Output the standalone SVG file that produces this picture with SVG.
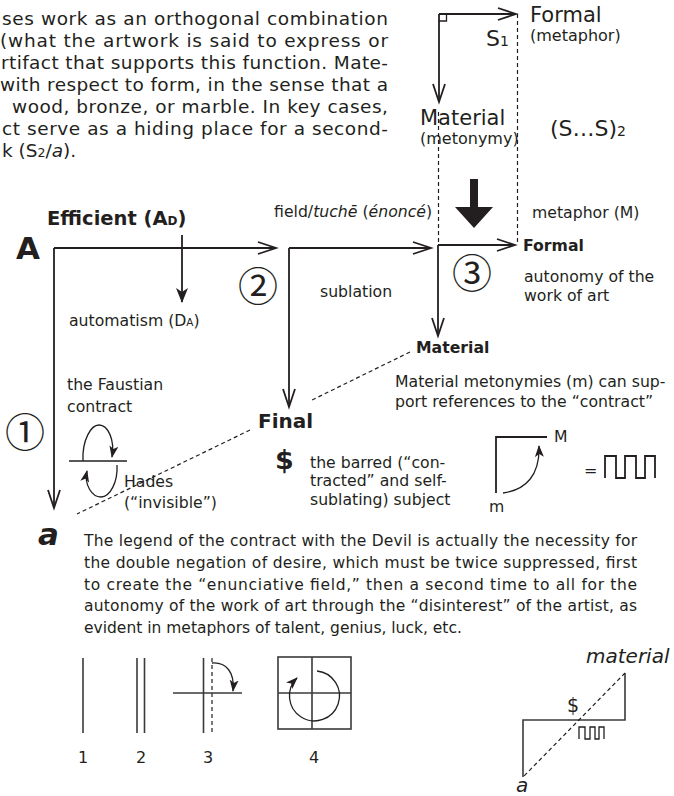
<svg xmlns="http://www.w3.org/2000/svg" width="674" height="796" viewBox="0 0 674 796">
<defs>
<style>
.t{font-family:"DejaVu Sans","Verdana",sans-serif;fill:#231f20}
.c{font-family:"Noto Sans CJK JP","Noto Sans CJK SC","DejaVu Sans",sans-serif;fill:#231f20}
.b{font-weight:bold}
.i{font-style:italic}
.p{font-size:18.5px}
.q{font-size:15.5px}
.l{font-size:15.7px}
.ln{stroke:#231f20;stroke-width:1.8;fill:none}
.thin{stroke:#231f20;stroke-width:1.3;fill:none}
.dash{stroke:#231f20;stroke-width:1.2;fill:none;stroke-dasharray:4 3}
.gray{stroke:#3a3a3a;stroke-width:1.6;fill:none}
</style>
<marker id="open" markerWidth="22" markerHeight="16" refX="19" refY="7" orient="auto" markerUnits="userSpaceOnUse"><path d="M1,1 L19,7 L1,13" fill="none" stroke="#231f20" stroke-width="1.8"/></marker>
<marker id="fill" markerWidth="17" markerHeight="14" refX="14" refY="6" orient="auto" markerUnits="userSpaceOnUse"><path d="M0,0 L15,6 L0,12 L4,6 Z" fill="#231f20"/></marker>
<marker id="fillS" markerWidth="14" markerHeight="11" refX="11" refY="4.5" orient="auto" markerUnits="userSpaceOnUse"><path d="M0,0 L12,4.5 L0,9 L3,4.5 Z" fill="#231f20"/></marker>
</defs>
<rect width="674" height="796" fill="#ffffff"/>

<g id="paragraph-top" class="t p">
<text x="2" y="25" textLength="386" lengthAdjust="spacing">ses work as an orthogonal combination</text>
<text x="0" y="47" textLength="388" lengthAdjust="spacing">(what the artwork is said to express or</text>
<text x="1" y="69" textLength="387" lengthAdjust="spacing">rtifact that supports this function. Mate-</text>
<text x="0" y="91" textLength="388" lengthAdjust="spacing">with respect to form, in the sense that a</text>
<text x="12" y="113" textLength="376" lengthAdjust="spacing">wood, bronze, or marble. In key cases,</text>
<text x="2" y="135" textLength="386" lengthAdjust="spacing">ct serve as a hiding place for a second-</text>
<text x="2" y="157">k (S<tspan font-size="12.5px">2</tspan>/<tspan class="i">a</tspan>).</text>
</g>

<g id="connectors">
<line class="ln" x1="439" y1="14" x2="516" y2="14" marker-end="url(#open)"/>
<line class="ln" x1="439" y1="14" x2="439" y2="102" marker-end="url(#open)"/>
<path class="thin" d="M439,21 H446.5 V14"/>
<line class="dash" x1="517.5" y1="14" x2="517.5" y2="243"/>
<line class="dash" x1="438.5" y1="112" x2="438.5" y2="245"/>
<path d="M470,179 H478 V207 H493 L474,228 L455,207 H470 Z" fill="#231f20"/>
<line class="ln" x1="54" y1="248" x2="276" y2="248" marker-end="url(#open)"/>
<line class="ln" x1="54" y1="248" x2="54" y2="508" marker-end="url(#open)"/>
<line class="ln" x1="182" y1="235" x2="182" y2="302" marker-end="url(#fill)"/>
<line class="ln" x1="289" y1="248" x2="431" y2="248" marker-end="url(#open)"/>
<line class="ln" x1="289" y1="248" x2="289" y2="407" marker-end="url(#open)"/>
<line class="ln" x1="438" y1="245" x2="515" y2="245" marker-end="url(#open)"/>
<line class="ln" x1="438" y1="245" x2="438" y2="336" marker-end="url(#open)"/>
<line class="dash" x1="410" y1="352" x2="310" y2="401"/>
<line class="dash" x1="250" y1="430" x2="77" y2="514"/>
</g>

<g id="top-right" class="t">
<text x="530" y="22" font-size="21px">Formal</text>
<text x="530" y="41" font-size="16px">(metaphor)</text>
<text x="486" y="46" font-size="22px">S<tspan font-size="14px">1</tspan></text>
<text x="420" y="125" font-size="21px">Material</text>
<text x="420" y="144" font-size="16px">(metonymy)</text>
<text x="550" y="136" font-size="22px">(S…S)<tspan font-size="14px">2</tspan></text>
</g>

<g id="efficient" class="t">
<text x="16" y="259" font-size="31px" class="b">A</text>
<text x="47" y="225" font-size="19.5px" class="b">Efficient (A<tspan font-size="12px">D</tspan>)</text>
<text x="69" y="326" class="l">automatism (D<tspan font-size="10.5px">A</tspan>)</text>
</g>

<g id="field" class="t l">
<text x="274" y="217">field/<tspan class="i">tuchē</tspan> (<tspan class="i">énoncé</tspan>)</text>
<text x="320" y="297">sublation</text>
<text x="532" y="218">metaphor (M)</text>
<text x="523" y="251" class="b">Formal</text>
<text x="524" y="282">autonomy of the</text>
<text x="524" y="301">work of art</text>
<text x="416" y="353" class="b">Material</text>
<text x="395" y="387">Material metonymies (m) can sup-</text>
<text x="395" y="407">port references to the “contract”</text>
</g>

<g id="numbers" class="c" font-size="40px">
<text x="5" y="447">①</text>
<text x="238" y="301">②</text>
<text x="452" y="288">③</text>
</g>

<g id="faustian" class="t l">
<text x="67" y="390">the Faustian</text>
<text x="67" y="412">contract</text>
<text x="124" y="487">Hades</text>
<text x="124" y="508">(“invisible”)</text>
</g>
<g id="hades-symbol">
<line class="thin" x1="69" y1="461" x2="127" y2="461"/>
<path class="thin" d="M83,461 C82,440 91,425 99,425 C108,425 115,440 112,457" marker-end="url(#fillS)"/>
<path class="thin" d="M117,465 C118,482 110,497 101,497 C92,497 84,485 87,471" marker-end="url(#fillS)"/>
</g>

<g id="final" class="t">
<text x="258" y="428" font-size="20px" class="b">Final</text>
<text x="275" y="469" font-size="27px" class="b">$</text>
<text x="310" y="468" class="l">the barred (“con-</text>
<text x="310" y="486" class="l">tracted” and self-</text>
<text x="310" y="505" class="l">sublating) subject</text>
</g>

<g id="m-diagram">
<path class="ln" d="M496,493 V437 H547"/>
<path class="thin" d="M503,493 C526,490 540,475 539,446" marker-end="url(#fillS)"/>
<text class="t l" x="554" y="442">M</text>
<text class="t l" x="489" y="512">m</text>
<text class="t" x="584" y="476" font-size="16px">=</text>
<path class="ln" d="M605,478 V456 H616 V478 H625 V456 H636 V478 H645 V456 H655 V478"/>
</g>

<g id="paragraph-bottom" class="t">
<text x="38" y="545" font-size="31px" class="b i">a</text>
<text x="84" y="546" class="q" textLength="553" lengthAdjust="spacing">The legend of the contract with the Devil is actually the necessity for</text>
<text x="84" y="568" class="q" textLength="553" lengthAdjust="spacing">the double negation of desire, which must be twice suppressed, first</text>
<text x="84" y="590" class="q" textLength="553" lengthAdjust="spacing">to create the “enunciative field,” then a second time to all for the</text>
<text x="84" y="611" class="q" textLength="553" lengthAdjust="spacing">autonomy of the work of art through the “disinterest” of the artist, as</text>
<text x="84" y="633" class="q">evident in metaphors of talent, genius, luck, etc.</text>
</g>

<g id="legend">
<line class="gray" x1="83" y1="658" x2="83" y2="733"/>
<line class="gray" x1="137" y1="658" x2="137" y2="733"/>
<line class="gray" x1="144.5" y1="658" x2="144.5" y2="733"/>
<line class="gray" x1="203.5" y1="658" x2="203.5" y2="733"/>
<line class="dash" x1="212" y1="658" x2="212" y2="733"/>
<line class="gray" x1="173" y1="693" x2="242" y2="693"/>
<path class="thin" d="M212,663 C226,662 235,672 233,691" marker-end="url(#fillS)"/>
<rect class="gray" x="278" y="657" width="73" height="72"/>
<line class="gray" x1="312" y1="657" x2="312" y2="729"/>
<line class="gray" x1="278" y1="693" x2="351" y2="693"/>
<path class="thin" d="M317,671 A25,25 0 1 1 297,678" marker-end="url(#fillS)"/>
<g class="t" font-size="16px" text-anchor="middle">
<text x="83" y="763">1</text>
<text x="141" y="763">2</text>
<text x="208" y="763">3</text>
<text x="314" y="763">4</text>
</g>
</g>

<g id="z-diagram">
<path class="gray" d="M625,673 V720 H523 V777"/>
<line class="dash" x1="625" y1="673" x2="523" y2="777"/>
<path class="thin" d="M579,739 V727 H585 V739 H590 V727 H595 V739 H599 V727 H604 V739"/>
<text class="t i" x="586" y="663" font-size="20px">material</text>
<text class="t" x="567" y="712" font-size="19px">$</text>
<text class="t i" x="516" y="792" font-size="20px">a</text>
</g>
</svg>
